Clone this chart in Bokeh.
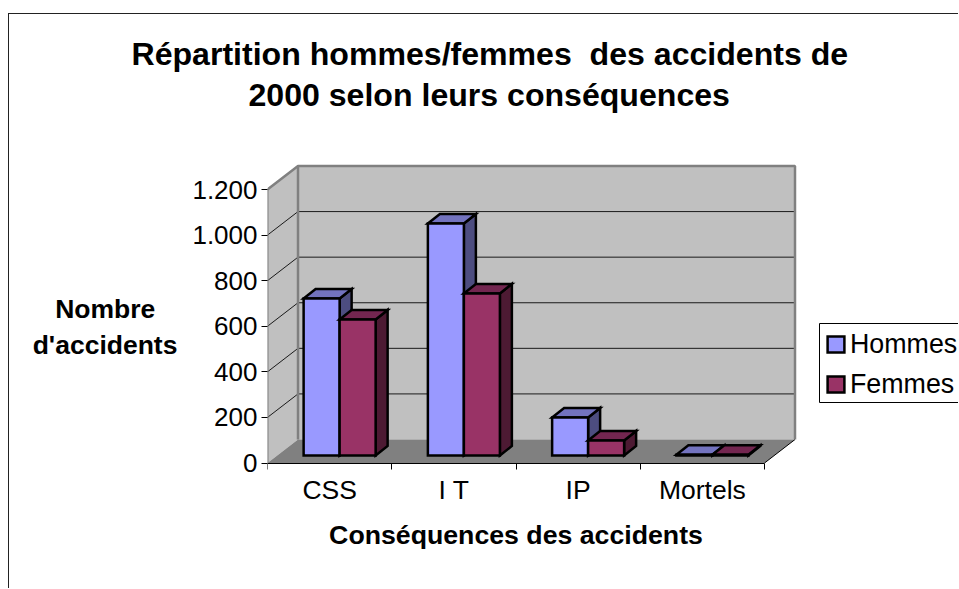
from bokeh.plotting import figure
from bokeh.embed import file_html
from bokeh.resources import INLINE
from bokeh.core.properties import value
from bokeh.models import Range1d, FixedTicker, Legend, LegendItem, Title

# ---- data ----
categories = ["CSS", "I T", "IP", "Mortels"]
hommes = [689, 1018, 167, 3]
femmes = [597, 711, 66, 3]
y_ticks = [0, 200, 400, 600, 800, 1000, 1200]
y_tick_labels = ["0", "200", "400", "600", "800", "1.000", "1.200"]
title_lines = ["Répartition hommes/femmes \u00a0des accidents de",
               "2000 selon leurs conséquences"]
y_label_lines = ["Nombre\u00a0\u00a0\u00a0", "d'accidents"]
x_label = "Conséquences des accidents"
series_names = ["Hommes", "Femmes"]

# ---- geometry ----
W, H = 950, 575
LEFT, BOTTOM, TOP_PX = 258, 37, 86    # frame offsets in canvas pixels
BELOW_ZERO = 89.5                  # frame pixels under the value 0
PX_CAT = 124.25                    # pixels per category
PX_UNIT = 273.5 / 1200             # pixels per accident
FONT = "Liberation Sans"
BORDER = "1.5px solid #222222"

def X(px):   # pixel length -> x data length
    return px / PX_CAT

def Y(px):   # pixel length -> y data length
    return px / PX_UNIT

p = figure(width=W, height=H, output_backend="svg", toolbar_location=None,
           x_range=Range1d(0, X(W - LEFT)),
           y_range=Range1d(-Y(BELOW_ZERO), Y(H - BOTTOM - TOP_PX - BELOW_ZERO)),
           min_border_left=LEFT, min_border_bottom=BOTTOM, min_border_top=TOP_PX, min_border_right=0,
           margin=(13, 0, 0, 8), title=None,
           styles={"border-top": BORDER, "border-left": BORDER})
p.grid.visible = False
p.outline_line_color = None
p.background_fill_color = "white"
p.border_fill_color = "white"

# title, one centred line at a time
def title_line(text, offset, standoff):
    t = Title(text=text, align="left", offset=offset, standoff=standoff, text_font=FONT,
              text_font_size="32.1px", text_font_style="bold", text_color="black")
    p.add_layout(t, "above")

title_line(title_lines[1], -19, -25)
title_line(title_lines[0], -136, 31)

WALL_X, WALL_Y = X(30.5), Y(23.5)   # depth of the walls
N = len(categories)
TOP = y_ticks[-1]

# walls and floor
p.patch([0, WALL_X, WALL_X, 0], [0, WALL_Y, TOP + WALL_Y, TOP], fill_color="#C0C0C0", line_color=None)
p.quad(left=WALL_X, right=N + WALL_X, bottom=WALL_Y, top=TOP + WALL_Y, fill_color="#C0C0C0", line_color=None)
p.patch([0, N, N + WALL_X, WALL_X], [0, 0, WALL_Y, WALL_Y], fill_color="#808080", line_color=None)

# grid lines on back and side wall
for t in y_ticks[1:-1]:
    p.line([0, WALL_X, N + WALL_X], [t, t + WALL_Y, t + WALL_Y], line_color="#1a1a1a", line_width=1)
p.line([N, N + WALL_X], [0, WALL_Y], line_color="black", line_width=1)
# wall edges
p.line([0, WALL_X, N + WALL_X, N + WALL_X], [TOP, TOP + WALL_Y, TOP + WALL_Y, WALL_Y], line_color="#808080", line_width=2.5)
p.line([WALL_X, WALL_X], [WALL_Y, TOP + WALL_Y], line_color="#808080", line_width=2.5)
p.line([0, 0], [0, TOP], line_color="#808080", line_width=2)

# bars
BAR_X, BAR_Y = X(10), Y(7.5)   # offset of bars inside the floor
BAR_DX, BAR_DY = X(12), Y(9.5)  # bar depth
BAR_W = X(36)

def draw(values, offset, front, top, side):
    left = [i + 0.5 + offset * BAR_W + BAR_X for i in range(N)]
    right = [l + BAR_W for l in left]
    base = [BAR_Y] * N
    tops = [v + BAR_Y for v in values]
    opts = dict(line_color="black", line_width=2.5, line_join="miter")
    p.patches([[r, r + BAR_DX, r + BAR_DX, r] for r in right],
              [[b, b + BAR_DY, t + BAR_DY, t] for b, t in zip(base, tops)],
              fill_color=side, **opts)
    p.patches([[l, l + BAR_DX, r + BAR_DX, r] for l, r in zip(left, right)],
              [[t, t + BAR_DY, t + BAR_DY, t] for t in tops],
              fill_color=top, **opts)
    return p.quad(left=left, right=right, bottom=base, top=tops, fill_color=front, **opts)

r1 = draw(hommes, -1, "#9999FF", "#7373BF", "#4D4D80")
r2 = draw(femmes, 0, "#993366", "#732650", "#4D1A33")

# axes
yax = p.yaxis[0]
yax.ticker = FixedTicker(ticks=y_ticks)
yax.major_label_overrides = {t: s for t, s in zip(y_ticks, y_tick_labels)}
yax.bounds = (0, TOP)
yax.axis_line_color = None
yax.major_tick_line_color = "black"
yax.major_tick_in = 0
yax.major_tick_out = 6
yax.minor_tick_line_color = None
yax.major_label_text_font = FONT
yax.major_label_text_font_size = "26px"
yax.major_label_text_color = "black"
yax.major_label_standoff = 4
yax.axis_label = "\n".join(y_label_lines)
yax.axis_label_orientation = "horizontal"
yax.axis_label_text_font = FONT
yax.axis_label_text_font_size = "26.5px"
yax.axis_label_text_font_style = "bold"
yax.axis_label_text_color = "black"
yax.axis_label_standoff = 12

xax = p.xaxis[0]
xax.fixed_location = 0
xax.ticker = FixedTicker(ticks=[], minor_ticks=list(range(N + 1)))
xax.bounds = (0, N)
xax.axis_line_color = "black"
xax.axis_line_width = 1
xax.major_tick_line_color = None
xax.minor_tick_line_color = "black"
xax.minor_tick_in = 0
xax.minor_tick_out = 6

# category names and axis title sit under the axis, placed through the data scales
p.text(x=[i + 0.5 for i in range(N)], y=[-Y(27)] * N, text=categories, text_align="center",
       text_baseline="middle", text_font=value(FONT), text_font_size="26.5px", text_color="black")
p.text(x=[N / 2], y=[-Y(72)], text=[x_label], text_align="center", text_baseline="middle",
       text_font=value(FONT), text_font_size="26.7px", text_font_style="bold", text_color="black")

# legend box (runs past the right edge of the page, as in the reference)
p.quad(left=X(552), right=X(W - LEFT + 20), bottom=Y(60.5), top=Y(139.5), fill_color="white", line_color="black", line_width=1)
legend = Legend(items=[LegendItem(label=series_names[0], renderers=[r1]),
                       LegendItem(label=series_names[1], renderers=[r2])],
                location=(558, 152.5), orientation="vertical",
                label_text_font=FONT, label_text_font_size="26.8px", label_text_color="black",
                glyph_width=21, glyph_height=20, label_height=17, label_standoff=4,
                spacing=9, padding=9, margin=0,
                border_line_color=None, background_fill_alpha=0)
p.add_layout(legend, "center")

open("out.html", "w").write(file_html(p, INLINE))
